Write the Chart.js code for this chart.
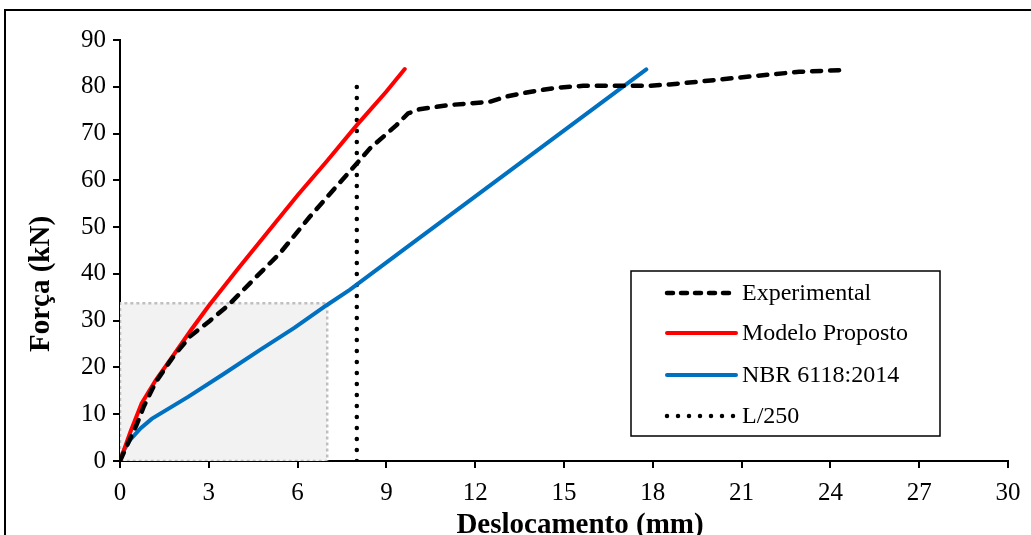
<!DOCTYPE html>
<html lang="pt">
<head>
<meta charset="utf-8">
<title>Força x Deslocamento</title>
<script src="https://cdn.jsdelivr.net/npm/chart.js@4.4.1/dist/chart.umd.min.js"></script>
<style>
  html, body { margin: 0; padding: 0; background: #fff; }
  #wrap { position: relative; width: 1031px; height: 535px; overflow: hidden; }
  canvas { display: block; }
</style>
</head>
<body>
<div id="wrap"><canvas id="chart" width="1031" height="535"></canvas></div>
<script>
// Ensaio experimental (deslocamento em mm, força em kN)
const expDesloc = [0, 0.3, 0.56, 0.8, 1.2, 1.8, 2.36, 3.04, 3.66, 4.5, 5.4, 6.41, 7.2, 8.0, 8.44, 9.34, 9.73, 10.12, 11.14, 12.49, 13.05, 13.84, 14.74, 15.64, 16.77, 17.89, 18.56, 19.57, 21.26, 22.95, 24.58];
const expForca  = [0, 4.2, 7.7, 11.6, 16.8, 22.3, 26.6, 30.0, 33.3, 38.7, 44.4, 52.2, 57.9, 63.6, 66.8, 71.8, 74.3, 75.2, 76.1, 76.8, 77.9, 78.9, 79.8, 80.2, 80.2, 80.2, 80.5, 81.1, 82.2, 83.2, 83.6];

// Modelo proposto
const modDesloc = [0, 0.35, 0.73, 1.2, 1.8, 2.4, 3.0, 4.0, 5.0, 6.0, 7.0, 8.0, 9.0, 9.62];
const modForca  = [0, 6.2, 12.3, 17.2, 22.6, 28.0, 33.2, 41.2, 49.0, 56.8, 64.2, 71.8, 79.0, 83.8];

// NBR 6118:2014
const nbrDesloc = [0, 0.15, 0.34, 0.7, 1.07, 2.3, 3.5, 4.72, 5.9, 6.98, 7.76, 9.56, 17.78];
const nbrForca  = [0, 2.5, 4.5, 7.0, 9.0, 13.7, 18.6, 23.7, 28.5, 33.3, 36.6, 45.1, 83.7];

// Limite L/250
const limDesloc = [8, 8];
const limForca  = [0, 82.3];

// Região destacada (zona de serviço)
const zonaDesloc = [0, 0, 7.0, 7.0, 0];
const zonaForca  = [0, 33.7, 33.7, 0, 0];

// Eixos
const xTicks = [0, 3, 6, 9, 12, 15, 18, 21, 24, 27, 30];
const yTicks = [0, 10, 20, 30, 40, 50, 60, 70, 80, 90];
const xTitle = 'Deslocamento (mm)';
const yTitle = 'Força (kN)';
const legendLabels = ['Experimental', 'Modelo Proposto', 'NBR 6118:2014', 'L/250'];

const pairs = (xs, ys) => xs.map((x, i) => ({ x: x, y: ys[i] }));
const SERIF = "'Liberation Serif', 'Times New Roman', serif";

const datasets = [
  { label: legendLabels[0], data: pairs(expDesloc, expForca), borderColor: '#000000', borderWidth: 4.5,
    borderDash: [9, 9], borderCapStyle: 'round', legendDash: [6, 8] },
  { label: legendLabels[1], data: pairs(modDesloc, modForca), borderColor: '#ff0000', borderWidth: 4,
    borderCapStyle: 'round', legendDash: [] },
  { label: legendLabels[2], data: pairs(nbrDesloc, nbrForca), borderColor: '#0070c0', borderWidth: 4,
    borderCapStyle: 'round', legendDash: [] },
  { label: legendLabels[3], data: pairs(limDesloc, limForca), borderColor: '#000000', borderWidth: 4.5,
    borderDash: [0, 11], borderCapStyle: 'round', legendDash: [0, 11] },
  { label: 'zona-borda', data: pairs(zonaDesloc, zonaForca), borderColor: '#bfbfbf', borderWidth: 2.5,
    borderDash: [3, 3], borderCapStyle: 'butt', fill: false, hideInLegend: true },
  { label: 'zona-fundo', data: pairs(zonaDesloc.slice(1, 3), zonaForca.slice(1, 3)), borderWidth: 0,
    borderColor: 'rgba(0,0,0,0)', backgroundColor: '#f2f2f2', fill: 'origin', hideInLegend: true }
].map(d => Object.assign({ showLine: true, pointRadius: 0, pointHoverRadius: 0, tension: 0 }, d));

// Moldura da figura
const framePlugin = {
  id: 'frame',
  beforeDraw(chart) {
    const ctx = chart.ctx;
    ctx.save();
    ctx.strokeStyle = '#000';
    ctx.lineWidth = 2;
    ctx.beginPath();
    ctx.moveTo(5, chart.height + 2);
    ctx.lineTo(5, 10);
    ctx.lineTo(chart.width + 2, 10);
    ctx.stroke();
    ctx.restore();
  }
};

// Títulos dos eixos
const axisTitlePlugin = {
  id: 'axisTitles',
  afterDraw(chart) {
    const ctx = chart.ctx;
    const ca = chart.chartArea;
    ctx.save();
    ctx.fillStyle = '#000';
    ctx.font = 'bold 29px ' + SERIF;
    ctx.textAlign = 'center';
    ctx.textBaseline = 'alphabetic';
    ctx.fillText(xTitle, ca.left + 460, ca.bottom + 72);
    ctx.translate(ca.left - 71, ca.top + 244);
    ctx.rotate(-Math.PI / 2);
    ctx.fillText(yTitle, 0, 0);
    ctx.restore();
  }
};

// Legenda em caixa dentro da área do gráfico
const boxLegendPlugin = {
  id: 'boxLegend',
  afterDraw(chart) {
    const ctx = chart.ctx;
    const ca = chart.chartArea;
    const left = ca.left + 511, top = ca.top + 231, w = 309, h = 165;
    ctx.save();
    ctx.fillStyle = '#ffffff';
    ctx.fillRect(left, top, w, h);
    ctx.strokeStyle = '#000';
    ctx.lineWidth = 1.5;
    ctx.strokeRect(left, top, w, h);
    ctx.font = '24px ' + SERIF;
    ctx.textBaseline = 'middle';
    ctx.textAlign = 'left';
    const items = chart.data.datasets.filter(d => !d.hideInLegend);
    const rowY = [22, 62, 104, 145];
    items.forEach((d, i) => {
      const y = top + rowY[i];
      ctx.beginPath();
      ctx.strokeStyle = d.borderColor;
      ctx.lineWidth = d.borderWidth;
      ctx.lineCap = d.borderCapStyle || 'butt';
      ctx.setLineDash(d.legendDash || []);
      ctx.moveTo(left + 36, y);
      ctx.lineTo(left + 105, y);
      ctx.stroke();
      ctx.setLineDash([]);
      ctx.fillStyle = '#000';
      ctx.fillText(d.label, left + 111, y + 1);
    });
    ctx.restore();
  }
};

new Chart(document.getElementById('chart'), {
  type: 'scatter',
  data: { datasets: datasets },
  plugins: [framePlugin, axisTitlePlugin, boxLegendPlugin],
  options: {
    responsive: false,
    devicePixelRatio: 1,
    animation: false,
    events: [],
    layout: { padding: { left: 14, top: 40, right: 23, bottom: 0 } },
    plugins: { legend: { display: false }, tooltip: { enabled: false } },
    scales: {
      x: {
        type: 'linear', min: 0, max: 30,
        afterBuildTicks: s => { s.ticks = xTicks.map(v => ({ value: v })); },
        afterFit: s => { s.height = 74; },
        grid: { drawOnChartArea: false, drawTicks: true, tickLength: 7, color: '#000', lineWidth: 2 },
        border: { display: true, color: '#000', width: 2 },
        ticks: { color: '#000', padding: 10, maxRotation: 0, autoSkip: false, font: { family: SERIF, size: 25 } },
        title: { display: false }
      },
      y: {
        type: 'linear', min: 0, max: 90,
        afterBuildTicks: s => { s.ticks = yTicks.map(v => ({ value: v })); },
        afterFit: s => { s.width = 106; },
        grid: { drawOnChartArea: false, drawTicks: true, tickLength: 7, color: '#000', lineWidth: 2 },
        border: { display: true, color: '#000', width: 2 },
        ticks: { color: '#000', padding: 7, autoSkip: false, font: { family: SERIF, size: 25 } },
        title: { display: false }
      }
    }
  }
});
</script>
</body>
</html>
